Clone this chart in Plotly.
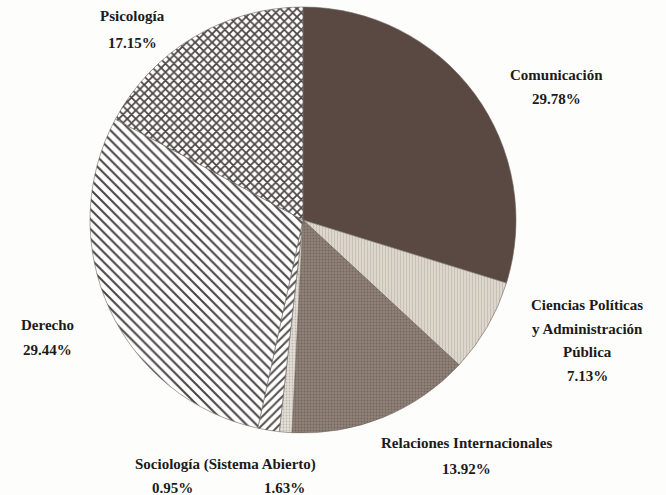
import plotly.graph_objects as go

# Data (clockwise from 12 o'clock)
slice_names = ["Comunicación", "Ciencias Políticas y Administración Pública",
               "Relaciones Internacionales", "Sociología (Sistema Abierto) 0.95%",
               "Sociología (Sistema Abierto) 1.63%", "Derecho", "Psicología"]
values = [29.78, 7.13, 13.92, 0.95, 1.63, 29.44, 17.15]

# Label text lines
label_lines = [["Comunicación", "29.78%"],
               ["Ciencias Políticas", "y Administración", "Pública", "7.13%"],
               ["Relaciones Internacionales", "13.92%"],
               ["0.95%"],
               ["1.63%"],
               ["Derecho", "29.44%"],
               ["Psicología", "17.15%"]]
label_pos = [(556, 75, 24), (587, 305, 23.5), (466, 443, 26), (172, 488, 0),
             (284, 488, 0), (47, 325, 25), (132, 16, 27)]

W, H = 666, 495
cx, cy, r = 303, 220, 213

bg = ["#5a4943", "#dcd6cc", "#908279", "#e4e0d8", "#ffffff", "#ffffff", "#ffffff"]
fg = ["#5a4943", "#c6bfb3", "#73665f", "#bdb6ac", "#575252", "#4a4646", "#4a4444"]
shapes = ["", "|", ".", ".", "/", "\\", "x"]
psize = [8, 3, 3, 3, 6, 7, 6]
psol = [0.3, 0.3, 0.35, 0.3, 0.35, 0.3, 0.5]

fig = go.Figure(go.Pie(
    labels=slice_names, values=values, sort=False, direction="clockwise",
    rotation=0, textinfo="none", hoverinfo="label+value",
    marker=dict(colors=bg, line=dict(color="#6e6660", width=0.6),
                pattern=dict(shape=shapes, bgcolor=bg, fgcolor=fg,
                             size=psize, solidity=psol, fillmode="replace")),
    domain=dict(x=[(cx - r) / W, (cx + r) / W], y=[1 - (cy + r) / H, 1 - (cy - r) / H]),
    showlegend=False,
))

font = dict(family="Liberation Serif, DejaVu Serif, serif", size=15, color="#1c1a1a")
ann = []
for lines, (x, y0, dy) in zip(label_lines, label_pos):
    for i, t in enumerate(lines):
        ann.append(dict(text="<b>%s</b>" % t, x=x / W, y=1 - (y0 + i * dy) / H,
                        xref="paper", yref="paper", showarrow=False, font=font,
                        xanchor="center", yanchor="middle"))
ann.append(dict(text="<b>Sociología (Sistema Abierto)</b>", x=225 / W, y=1 - 464 / H,
                xref="paper", yref="paper", showarrow=False, font=font,
                xanchor="center", yanchor="middle"))

fig.update_layout(width=W, height=H, margin=dict(l=0, r=0, t=0, b=0),
                  paper_bgcolor="#fdfdfb", plot_bgcolor="#fdfdfb", annotations=ann)
fig.write_html("out.html", config={"displayModeBar": False},
               post_script="document.body.style.margin='0';")
